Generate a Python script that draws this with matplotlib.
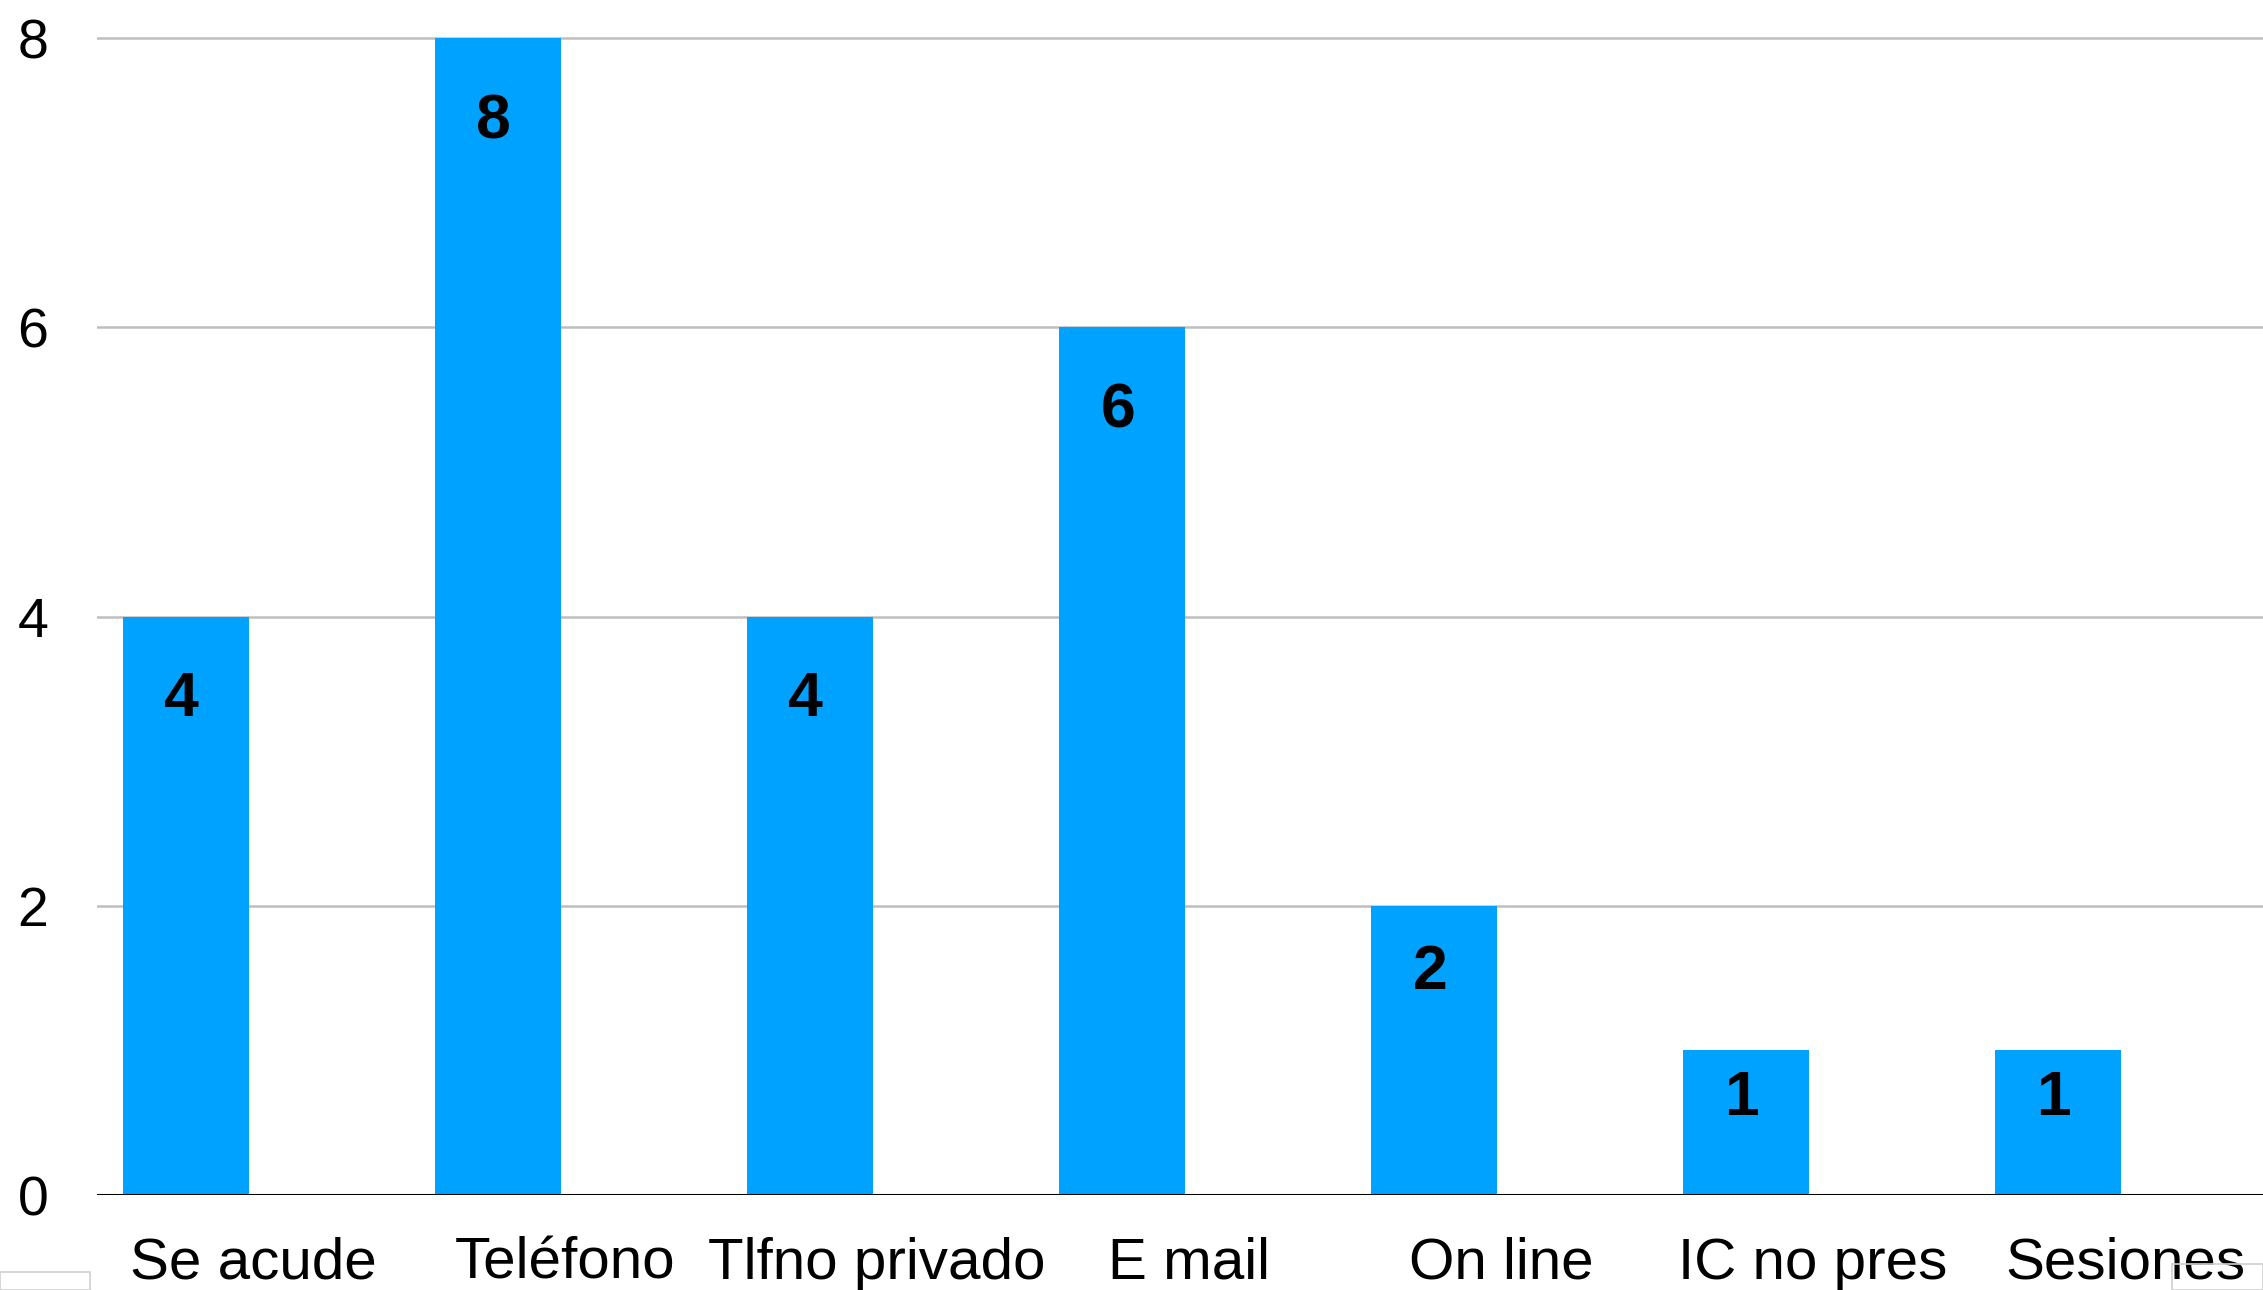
import matplotlib.pyplot as plt
from matplotlib.patches import Rectangle

plt.rcParams['font.family'] = ['Liberation Sans', 'DejaVu Sans']

# datos
categorias = ["Se acude", "Teléfono", "Tlfno privado", "E mail", "On line", "IC no pres", "Sesiones"]
valores = [4, 8, 4, 6, 2, 1, 1]

fig = plt.figure(figsize=(22.63, 12.90), dpi=100)
ax = fig.add_axes([97 / 2263, 1 - 1195 / 1290, 1 - 97 / 2263, (1195 - 9.3) / 1290])

x = list(range(len(categorias)))
xb = [i - 0.215 for i in x]
ax.bar(xb, valores, width=0.404, color="#00A2FF", zorder=3)

for xi, v in zip(xb, valores):
    off = min(60, 21 + 13.5 * v)
    ax.annotate(str(v), (xi, v), xytext=(-3, -off), textcoords="offset points",
                ha="center", va="center", fontsize=45, fontweight="bold", color="black", zorder=4)

ax.set_xlim(-0.5, 6.442)
ax.set_ylim(0, 8.2)
ax.set_yticks([0, 2, 4, 6, 8])
ax.set_xticks(x)
ax.set_xticklabels(categorias)
ax.tick_params(axis="x", length=0, labelsize=42, pad=30)
ax.tick_params(axis="y", length=0, labelsize=40, pad=35)

for y in [2, 4, 6, 8]:
    ax.axhline(y, color="#BEBEBE", lw=1.8, zorder=1)
ax.axhline(0, color="black", lw=2.2, zorder=5)

for s in ax.spines.values():
    s.set_visible(False)

# restos de la captura
fig.patches.append(Rectangle((0, 0), 90 / 2263, 18 / 1290, transform=fig.transFigure,
                             fill=False, edgecolor="#D0D0D0", lw=1.2))
fig.patches.append(Rectangle((2172 / 2263, 0), 91 / 2263, 26 / 1290, transform=fig.transFigure,
                             fill=False, edgecolor="#D0D0D0", lw=1.2))

plt.savefig("out.png", dpi=100)
